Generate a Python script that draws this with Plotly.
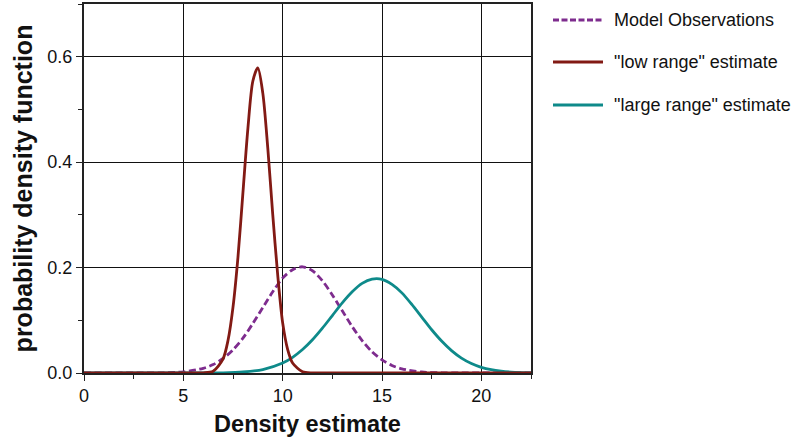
import plotly.graph_objects as go

# ---- data ----
low_x = [0, 5.5, 6.0, 6.5, 7.0, 7.25, 7.5, 7.75, 8.0, 8.25, 8.5, 8.75, 9.0, 9.25,
         9.5, 9.75, 10.0, 10.25, 10.5, 11.0, 11.5, 12.0, 22.5]
low_y = [0, 0, 0.0003, 0.0034, 0.027, 0.062, 0.125, 0.220, 0.342, 0.464, 0.554, 0.579,
         0.531, 0.427, 0.301, 0.186, 0.095, 0.045, 0.019, 0.0024, 0.0002, 0, 0]

obs_x = [0, 3, 4, 5, 6, 6.5, 7, 7.5, 8, 8.5, 9, 9.5, 10, 10.5, 11, 11.5, 12, 12.5,
         13, 13.5, 14, 14.5, 15, 15.5, 16, 17, 18, 19, 22.5]
obs_y = [0, 0.0001, 0.0004, 0.0022, 0.0089, 0.016, 0.0275, 0.044, 0.066, 0.094, 0.124,
         0.154, 0.180, 0.196, 0.2015, 0.194, 0.175, 0.148, 0.118, 0.088, 0.0615, 0.040,
         0.025, 0.0144, 0.0078, 0.0019, 0.0004, 0.0001, 0]

large_x = [0, 5, 6, 7, 8, 9, 10, 10.5, 11, 11.5, 12, 12.5, 13, 13.5, 14, 14.5, 15,
           15.5, 16, 16.5, 17, 17.5, 18, 18.5, 19, 19.5, 20, 20.5, 21, 21.5, 22, 22.5]
large_y = [0, 0, 0.0001, 0.0004, 0.0019, 0.0066, 0.019, 0.0298, 0.0445, 0.063, 0.085,
           0.109, 0.133, 0.154, 0.170, 0.178, 0.1776, 0.168, 0.152, 0.130, 0.106, 0.082,
           0.0606, 0.0425, 0.0283, 0.018, 0.0108, 0.0062, 0.0034, 0.0017, 0.0009, 0.0004]

series_names = ["Model Observations", "\"low range\" estimate", "\"large range\" estimate"]
x_title = "Density estimate"
y_title = "probability density function"

# ---- styles ----
C_OBS = "#7E2C8E"
C_LOW = "#821A14"
C_LARGE = "#0E8A8A"
FONT = "Liberation Sans, Arial, Helvetica, sans-serif"

fig = go.Figure()
fig.add_trace(go.Scatter(x=obs_x, y=obs_y, mode="lines", name=series_names[0],
                         line=dict(color=C_OBS, width=2.8, dash="7px,3.5px", shape="spline",
                                   smoothing=0.8)))
fig.add_trace(go.Scatter(x=large_x, y=large_y, mode="lines", name=series_names[2],
                         line=dict(color=C_LARGE, width=2.8, shape="spline", smoothing=0.8)))
fig.add_trace(go.Scatter(x=low_x, y=low_y, mode="lines", name=series_names[1],
                         line=dict(color=C_LOW, width=2.8, shape="spline", smoothing=0.8)))

L, R, T, B = 84, 268, 4, 68
W, H = 799, 441
pw, ph = W - L - R, H - T - B

def px_x(p):
    return (p - L) / pw

def px_y(p):
    return (H - B - p) / ph

# manual legend
legend_rows = [(series_names[0], C_OBS, "6px,2.5px", 20),
               (series_names[1], C_LOW, "solid", 62),
               (series_names[2], C_LARGE, "solid", 105)]
for name, col, dash, py in legend_rows:
    fig.add_shape(type="line", xref="paper", yref="paper",
                  x0=px_x(553), x1=px_x(603), y0=px_y(py), y1=px_y(py),
                  line=dict(color=col, width=2.8, dash=dash))
    fig.add_annotation(xref="paper", yref="paper", x=px_x(612), y=px_y(py),
                       xanchor="left", yanchor="middle", text=name, showarrow=False,
                       font=dict(family=FONT, size=18, color="#111"))

axis_common = dict(showline=True, mirror=True, linecolor="#222", gridcolor="#111",
                   gridwidth=1, zeroline=False, ticks="outside", ticklen=6,
                   tickcolor="#222", tickfont=dict(family=FONT, size=18, color="#111"),
                   layer="below traces")

fig.update_layout(
    width=W, height=H,
    margin=dict(l=L, r=R, t=T, b=B, autoexpand=False),
    paper_bgcolor="white", plot_bgcolor="white",
    showlegend=False,
    xaxis=dict(range=[0, 22.5], dtick=5, tick0=0, linewidth=1.5,
               minor=dict(dtick=2.5, ticks="outside", ticklen=4, tickcolor="#222",
                          showgrid=False),
               title=dict(text="<b>" + x_title + "</b>", standoff=10,
                          font=dict(family=FONT, size=23.5, color="#111")),
               **axis_common),
    yaxis=dict(range=[0, 0.7], dtick=0.2, tick0=0, tickformat=".1f", linewidth=2,
               minor=dict(dtick=0.1, ticks="outside", ticklen=4, tickcolor="#222",
                          showgrid=False),
               title=dict(text="<b>" + y_title + "</b>", standoff=8,
                          font=dict(family=FONT, size=25, color="#111")),
               **axis_common),
    xaxis2=dict(overlaying="x", anchor="y", range=[0, 22.5], dtick=5, tick0=0,
                showgrid=False, showticklabels=False, showline=False, zeroline=False,
                ticks="", minor=dict(dtick=2.5, ticks="inside", ticklen=4,
                                     tickcolor="#222", showgrid=False)),
    yaxis2=dict(overlaying="y", anchor="x", side="left", range=[0, 0.7], dtick=0.2,
                tick0=0, showgrid=False, showticklabels=False, showline=False,
                zeroline=False, ticks="", minor=dict(dtick=0.1, ticks="inside", ticklen=4,
                                                    tickcolor="#222", showgrid=False)),
)

fig.write_html("out.html")
